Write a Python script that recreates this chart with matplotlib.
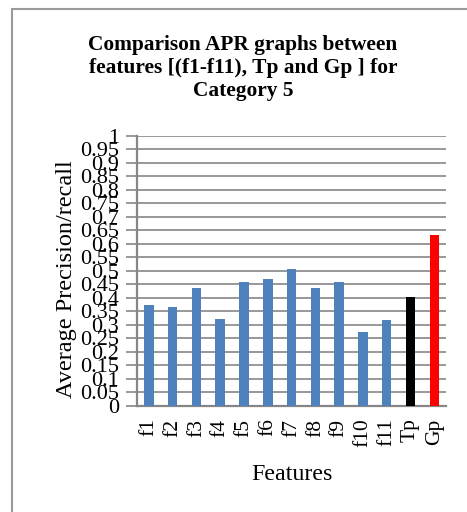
import numpy as np
import matplotlib.pyplot as plt
from matplotlib.patches import Rectangle

features = ['f1', 'f2', 'f3', 'f4', 'f5', 'f6', 'f7', 'f8', 'f9', 'f10', 'f11', 'Tp', 'Gp']
apr = [0.375, 0.367, 0.435, 0.322, 0.460, 0.469, 0.505, 0.436, 0.457, 0.274, 0.320, 0.402, 0.632]
colors = ['#4F81BD'] * 11 + ['#000000', '#FF0000']
yticks = np.round(np.arange(0, 1.0001, 0.05), 2)
ytick_labels = ['%g' % t for t in yticks]

plt.rcParams['font.family'] = ['Liberation Serif', 'DejaVu Serif']

fig = plt.figure(figsize=(4.67, 5.12), dpi=100)
ax = fig.add_axes([0.2934, 0.207, 0.662, 0.528])

x = np.arange(len(features))
ax.bar(x, apr, width=0.4, color=colors, zorder=3)

ax.set_xlim(-0.5, len(features) - 0.5)
ax.set_ylim(0, 1)
ax.set_yticks(yticks)
ax.set_yticklabels(ytick_labels, fontsize=16)
ax.set_xticks(x)
ax.set_xticklabels(features, rotation=90, fontsize=15.5)
ax.yaxis.grid(True, color='#868686', linewidth=1.2, zorder=0)
ax.tick_params(axis='y', length=8, width=1.2, color='#868686', pad=5)
ax.tick_params(axis='x', length=0, pad=9)
for s in ['top', 'right']:
    ax.spines[s].set_visible(False)
for s in ['left', 'bottom']:
    ax.spines[s].set_color('#868686')
    ax.spines[s].set_linewidth(1.6)

ax.set_ylabel('Average Precision/recall', fontsize=17.5, labelpad=0)
ax.yaxis.set_label_coords(-0.195, 0.47)
ax.set_xlabel('Features', fontsize=17.3, labelpad=12)

fig.text(243 / 467, 1 - 35 / 512, 'Comparison APR graphs between\nfeatures [(f1-f11), Tp and Gp ] for\nCategory 5',
         ha='center', va='top', fontsize=15.4, fontweight='bold', linespacing=1.2,
         transform=fig.transFigure)

# outer chart frame, cut off at the right and bottom edges of the picture
fig.patches.append(Rectangle((12 / 467, -0.1), 1.2, 1 - 9 / 512 + 0.1, transform=fig.transFigure,
                             fill=False, edgecolor='#9a9a9a', linewidth=1.5))

fig.savefig('out.png', dpi=100)
